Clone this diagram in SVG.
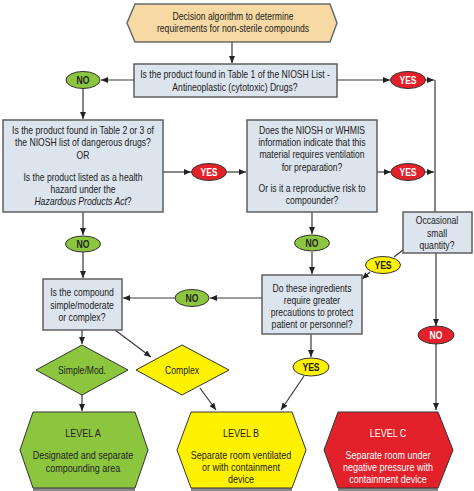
<svg xmlns="http://www.w3.org/2000/svg" width="474" height="491" viewBox="0 0 474 491">
<defs>
<marker id="arr" markerWidth="7" markerHeight="6" refX="7" refY="3" orient="auto" markerUnits="userSpaceOnUse">
<path d="M0,0 L7,3 L0,6 z" fill="#222"/>
</marker>
</defs>
<style>
text{font-family:"Liberation Sans",Arial,sans-serif;font-size:10.5px;fill:#222;text-anchor:middle}
.box{fill:#dce4ed;stroke:#5f5f5f;stroke-width:1.5}
.title{fill:#f6d9a3;stroke:#6a6a6a;stroke-width:1.5}
.g{fill:#8cc63f;stroke:#333;stroke-width:1}
.r{fill:#e3212a;stroke:#333;stroke-width:1}
.y{fill:#fff200;stroke:#333;stroke-width:1}
.ot{font-size:10.5px;font-weight:bold}
.lv{font-size:11px}
.w{fill:#fff}
.shadow{fill:#8a8a8a}
.conn path{fill:none;stroke:#3a3a3a;stroke-width:1.2}
.a{marker-end:url(#arr)}
</style>

<g id="connectors" class="conn">
<path class="a" d="M232,42 V63"/>
<path class="a" d="M134,80 H101"/>
<path class="a" d="M83,89 V119"/>
<path class="a" d="M337,80 H390"/>
<path class="a" d="M426,80 H434"/>
<path d="M435,80 V212"/>
<path class="a" d="M163,172 H191"/>
<path class="a" d="M227,172 H246"/>
<path class="a" d="M377,172 H391"/>
<path class="a" d="M425,172 H434"/>
<path class="a" d="M83,212 V235"/>
<path class="a" d="M83,252 V278"/>
<path class="a" d="M312,212 V234"/>
<path class="a" d="M312,252 V274"/>
<path d="M403,250 L394,257"/>
<path class="a" d="M370,272 L362,279"/>
<path class="a" d="M436,253 V326"/>
<path class="a" d="M436,344 V410"/>
<path class="a" d="M262,298 H210"/>
<path class="a" d="M175,298 H123"/>
<path class="a" d="M82,330 V344"/>
<path class="a" d="M115,330 L151,357"/>
<path class="a" d="M82,395 V411"/>
<path class="a" d="M200,388 L216,410"/>
<path class="a" d="M311,334 V357"/>
<path class="a" d="M304,376 L281,410"/>
</g>

<g id="title">
<polygon class="title" points="135,4 330,4 337,23 330,42 135,42 127,23"/>
<g transform="translate(233 0) scale(0.82 1)">
<text x="0" y="20">Decision algorithm to determine</text>
<text x="0" y="32">requirements for non-sterile compounds</text>
</g>
</g>

<g id="q1">
<rect class="box" x="134" y="64" width="203" height="33"/>
<g transform="translate(235 0) scale(0.82 1)">
<text x="0" y="78">Is the product found in Table 1 of the NIOSH List -</text>
<text x="0" y="91">Antineoplastic (cytotoxic) Drugs?</text>
</g>
</g>

<g id="no1"><ellipse class="g" cx="83" cy="80" rx="17" ry="8.5"/><g transform="translate(83 0) scale(0.82 1)"><text class="ot" x="0" y="84">NO</text></g></g>
<g id="yes1"><ellipse class="r" cx="408" cy="80" rx="17.5" ry="8.5"/><g transform="translate(408 0) scale(0.82 1)"><text class="ot w" x="0" y="84">YES</text></g></g>

<g id="q2">
<rect class="box" x="3" y="120" width="160" height="92"/>
<g transform="translate(83 0) scale(0.82 1)">
<text x="0" y="134">Is the product found in Table 2 or 3 of</text>
<text x="0" y="146">the NIOSH list of dangerous drugs?</text>
<text x="0" y="159">OR</text>
<text x="0" y="181">Is the product listed as a health</text>
<text x="0" y="193">hazard under the</text>
<text x="0" y="205"><tspan font-style="italic">Hazardous Products Act</tspan>?</text>
</g>
</g>

<g id="yes2"><ellipse class="r" cx="209" cy="172" rx="17.5" ry="8.5"/><g transform="translate(209 0) scale(0.82 1)"><text class="ot w" x="0" y="176">YES</text></g></g>

<g id="q3">
<rect class="box" x="247" y="120" width="130" height="92"/>
<g transform="translate(312 0) scale(0.82 1)">
<text x="0" y="134">Does the NIOSH or WHMIS</text>
<text x="0" y="146">information indicate that this</text>
<text x="0" y="158">material requires ventilation</text>
<text x="0" y="171">for preparation?</text>
<text x="0" y="192">Or is it a reproductive risk to</text>
<text x="0" y="204">compounder?</text>
</g>
</g>

<g id="yes3"><ellipse class="r" cx="408" cy="172" rx="17" ry="8.5"/><g transform="translate(408 0) scale(0.82 1)"><text class="ot w" x="0" y="176">YES</text></g></g>

<g id="occasional">
<rect class="box" x="403" y="212" width="69" height="41"/>
<g transform="translate(437 0) scale(0.82 1)">
<text x="0" y="224">Occasional</text>
<text x="0" y="237">small</text>
<text x="0" y="249">quantity?</text>
</g>
</g>

<g id="no2"><ellipse class="g" cx="83" cy="244" rx="17.5" ry="8"/><g transform="translate(83 0) scale(0.82 1)"><text class="ot" x="0" y="248">NO</text></g></g>
<g id="no3"><ellipse class="g" cx="312" cy="243" rx="17.5" ry="8"/><g transform="translate(312 0) scale(0.82 1)"><text class="ot" x="0" y="247">NO</text></g></g>
<g id="yes4"><ellipse class="y" cx="383" cy="265" rx="17.5" ry="8.5"/><g transform="translate(383 0) scale(0.82 1)"><text class="ot" x="0" y="269">YES</text></g></g>

<g id="q4">
<rect class="box" x="43" y="279" width="79" height="51"/>
<g transform="translate(82 0) scale(0.82 1)">
<text x="0" y="296">Is the compound</text>
<text x="0" y="309">simple/moderate</text>
<text x="0" y="321">or complex?</text>
</g>
</g>

<g id="no5"><ellipse class="g" cx="192" cy="298" rx="17" ry="8.5"/><g transform="translate(192 0) scale(0.82 1)"><text class="ot" x="0" y="302">NO</text></g></g>

<g id="q5">
<rect class="box" x="262" y="275" width="100" height="59"/>
<g transform="translate(312 0) scale(0.82 1)">
<text x="0" y="292">Do these ingredients</text>
<text x="0" y="304">require greater</text>
<text x="0" y="316">precautions to protect</text>
<text x="0" y="328">patient or personnel?</text>
</g>
</g>

<g id="no4"><ellipse class="r" cx="436" cy="335" rx="18" ry="9"/><g transform="translate(436 0) scale(0.82 1)"><text class="ot w" x="0" y="339">NO</text></g></g>
<g id="yes6"><ellipse class="y" cx="311" cy="367" rx="18" ry="9"/><g transform="translate(311 0) scale(0.82 1)"><text class="ot" x="0" y="371">YES</text></g></g>

<g id="simple">
<polygon class="g" points="82,345 128,370 82,395 36,370"/>
<g transform="translate(82 0) scale(0.82 1)"><text x="0" y="374">Simple/Mod.</text></g>
</g>

<g id="complex">
<polygon class="y" points="182,345 229,370 182,395 136,370"/>
<g transform="translate(182 0) scale(0.82 1)"><text x="0" y="374">Complex</text></g>
</g>

<g id="levelA">
<rect class="shadow" x="33" y="486" width="102" height="5"/>
<polygon class="g" stroke="#555" points="33,412 135,412 148,450 135,488 33,488 20,450"/>
<g transform="translate(83 0) scale(0.82 1)">
<text class="lv" x="0" y="437">LEVEL A</text>
<text class="lv" x="0" y="459">Designated and separate</text>
<text class="lv" x="0" y="472">compounding area</text>
</g>
</g>

<g id="levelB">
<rect class="shadow" x="191" y="486" width="101" height="5"/>
<polygon class="y" stroke="#555" points="191,412 292,412 306,450 292,488 191,488 177,450"/>
<g transform="translate(241 0) scale(0.82 1)">
<text class="lv" x="0" y="437">LEVEL B</text>
<text class="lv" x="0" y="459">Separate room ventilated</text>
<text class="lv" x="0" y="471">or with containment</text>
<text class="lv" x="0" y="483">device</text>
</g>
</g>

<g id="levelC">
<rect class="shadow" x="338" y="486" width="100" height="5"/>
<polygon class="r" stroke="#555" points="338,412 438,412 453,450 438,488 338,488 324,450"/>
<g transform="translate(388 0) scale(0.82 1)">
<text class="lv w" x="0" y="437">LEVEL C</text>
<text class="lv w" x="0" y="459">Separate room under</text>
<text class="lv w" x="0" y="471">negative pressure with</text>
<text class="lv w" x="0" y="483">containment device</text>
</g>
</g>
</svg>
